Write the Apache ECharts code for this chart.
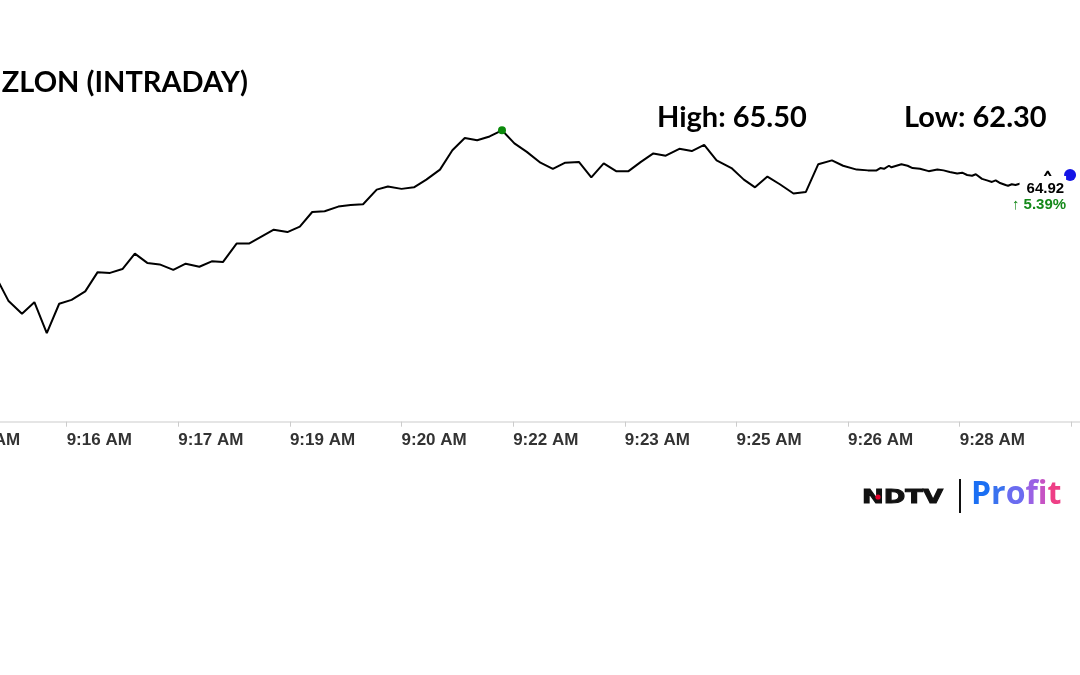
<!DOCTYPE html>
<html>
<head>
<meta charset="utf-8">
<script src="https://cdn.jsdelivr.net/npm/echarts@6/dist/echarts.min.js"></script>
<style>
html,body{margin:0;padding:0;background:#ffffff;}
#chart{width:1080px;height:675px;}
</style>
</head>
<body>
<div id="chart"></div>
<script>
// ---- data ----
const chartTitle = 'SUZLON (INTRADAY)';
const highText = 'High: 65.50';
const lowText = 'Low: 62.30';
const changePct = 5.39;

// x values: seconds after 9:14:30 AM
const timeSecs = [
  33, 43, 54, 64, 74, 84, 94, 105, 115, 125,
  135, 145, 155, 165, 176, 186, 197, 207, 216, 227,
  237, 247, 257, 268, 278, 288, 298, 309, 319, 329,
  340, 349, 360, 370, 380, 391, 401, 411, 421, 431,
  441, 451, 461, 472, 482, 492, 503, 513, 523, 533,
  543, 553, 563, 573, 584, 594, 604, 614, 626, 636,
  645, 655, 665, 676, 686, 696, 707, 716, 727, 736,
  743, 746, 749, 753, 755, 763, 768, 772, 778, 785,
  792, 797, 802, 808, 812, 816, 820, 823, 828, 832,
  836, 839, 842, 847, 849, 852, 855, 859, 875, 881,
  886, 899
];
const prices = [
  63.60, 63.29, 63.12, 63.27, 62.87, 63.25, 63.30, 63.41, 63.66, 63.65,
  63.70, 63.90, 63.78, 63.76, 63.69, 63.77, 63.73, 63.80, 63.79, 64.03,
  64.03, 64.12, 64.21, 64.18, 64.25, 64.44, 64.45, 64.51, 64.53, 64.54,
  64.73, 64.77, 64.74, 64.76, 64.86, 64.99, 65.24, 65.40, 65.37, 65.42,
  65.50, 65.33, 65.22, 65.08, 65.00, 65.08, 65.09, 64.89, 65.07, 64.97,
  64.97, 65.09, 65.20, 65.17, 65.26, 65.23, 65.31, 65.11, 65.01, 64.86,
  64.76, 64.90, 64.80, 64.68, 64.70, 65.06, 65.11, 65.04, 64.99, 64.98,
  64.98, 65.01, 65.00, 65.04, 65.02, 65.06, 65.04, 65.01, 65.00, 64.97,
  64.99, 64.98, 64.96, 64.94, 64.95, 64.92, 64.91, 64.93, 64.87, 64.85,
  64.83, 64.85, 64.82, 64.79, 64.78, 64.80, 64.79, 64.81, 64.81, 64.97,
  64.83, 64.92
];
// axis: ticks every 90 s starting at 9:14:30
const axisStartClock = { h: 9, m: 14, s: 30 };
const tickStepSecs = 90;
const axisMinSecs = 0;
const axisMaxSecs = 907;
const lastLabelledSecs = 810;
const yMin = 61.72;
const yMax = 66.02;

function clockLabel(v) {
  if (v > lastLabelledSecs) return '';
  const total = axisStartClock.h * 3600 + axisStartClock.m * 60 + axisStartClock.s + v;
  const h = Math.floor(total / 3600);
  const m = Math.floor((total % 3600) / 60);
  return h + ':' + String(m).padStart(2, '0') + ' AM';
}

const hiIdx = prices.indexOf(Math.max.apply(null, prices));
const lastIdx = prices.length - 1;
const seriesData = timeSecs.map(function (t, i) {
  const item = { value: [t, prices[i]] };
  if (i === hiIdx) {
    item.symbol = 'circle';
    item.symbolSize = 8;
    item.itemStyle = { color: '#0b8a0b' };
  }
  if (i === lastIdx) {
    item.symbol = 'circle';
    item.symbolSize = 12;
    item.itemStyle = { color: '#1414e6' };
    item.label = {
      show: true,
      position: 'left',
      distance: 0,
      align: 'right',
      verticalAlign: 'top',
      offset: [2, 1],
      formatter: '{a|' + prices[i].toFixed(2) + '}\n{b|\u2191 ' + changePct.toFixed(2) + '%}',
      rich: {
        a: { align: 'right', fontFamily: 'Liberation Sans', fontWeight: 'bold', fontSize: 15, color: '#000',
             backgroundColor: '#ffffff', padding: [5, 2, 3, 7], lineHeight: 23 },
        b: { align: 'right', fontFamily: 'Liberation Sans', fontWeight: 'bold', fontSize: 15, color: '#15891a',
             lineHeight: 12 }
      }
    };
  }
  return item;
});

const chart = echarts.init(document.getElementById('chart'), null, { renderer: 'canvas' });
const titleFont = { fontFamily: 'Lato', fontWeight: 'bold', fontSize: 29, color: '#000' };
const logoFont = { fontFamily: 'Open Sans', fontWeight: 'bold', fontSize: 32 };
chart.setOption({
  animation: false,
  backgroundColor: '#ffffff',
  title: [
    { text: chartTitle, right: 832, top: 68, padding: 0, textStyle: titleFont },
    { text: highText, left: 657, top: 103, padding: 0, textStyle: titleFont },
    { text: lowText, left: 904, top: 103, padding: 0, textStyle: titleFont }
  ],
  grid: { left: -45, right: 0, top: 90.2, bottom: 253.3, containLabel: false, outerBoundsMode: 'none' },
  xAxis: {
    type: 'value',
    min: axisMinSecs,
    max: axisMaxSecs,
    interval: tickStepSecs,
    axisLine: { show: true, lineStyle: { color: '#dcdcdc', width: 1.5 } },
    axisTick: { show: true, length: 5, lineStyle: { color: '#cccccc', width: 1 } },
    axisLabel: {
      formatter: clockLabel, align: 'left', margin: 10, showMaxLabel: false, showMinLabel: true,
      fontFamily: 'Liberation Sans', fontWeight: 'bold', fontSize: 17, color: '#333333'
    },
    splitLine: { show: false }
  },
  yAxis: { type: 'value', min: yMin, max: yMax, show: false },
  series: [{
    type: 'line',
    data: seriesData,
    symbol: 'none',
    showSymbol: true,
    showAllSymbol: true,
    lineStyle: { color: '#000000', width: 2 },
    label: { show: false },
    emphasis: { disabled: true },
    z: 2
  }],
  graphic: [
    { type: 'text', x: 862, y: 498, scaleX: 1.3,
      style: { text: 'NDTV', font: 'bold 20px "DejaVu Sans"', fill: '#111111', stroke: '#111111', lineWidth: 1, textVerticalAlign: 'middle' } },
    { type: 'circle', shape: { cx: 878, cy: 497, r: 2.6 }, style: { fill: '#e4002b' } },
    { type: 'rect', shape: { x: 959, y: 479, width: 2, height: 34 }, style: { fill: '#111111' } },
    { type: 'text', x: 971, y: 495,
      style: {
        text: '{p|P}{r|r}{o|o}{f|f}{i|i}{t|t}',
        textVerticalAlign: 'middle',
        rich: {
          p: Object.assign({ fill: '#1b6ff3' }, logoFont),
          r: Object.assign({ fill: '#3a72ef' }, logoFont),
          o: Object.assign({ fill: '#6b6cf0' }, logoFont),
          f: Object.assign({ fill: '#9a62e4' }, logoFont),
          i: Object.assign({ fill: '#c653c4' }, logoFont),
          t: Object.assign({ fill: '#ee3f86' }, logoFont)
        }
      } }
  ]
});
</script>
</body>
</html>
